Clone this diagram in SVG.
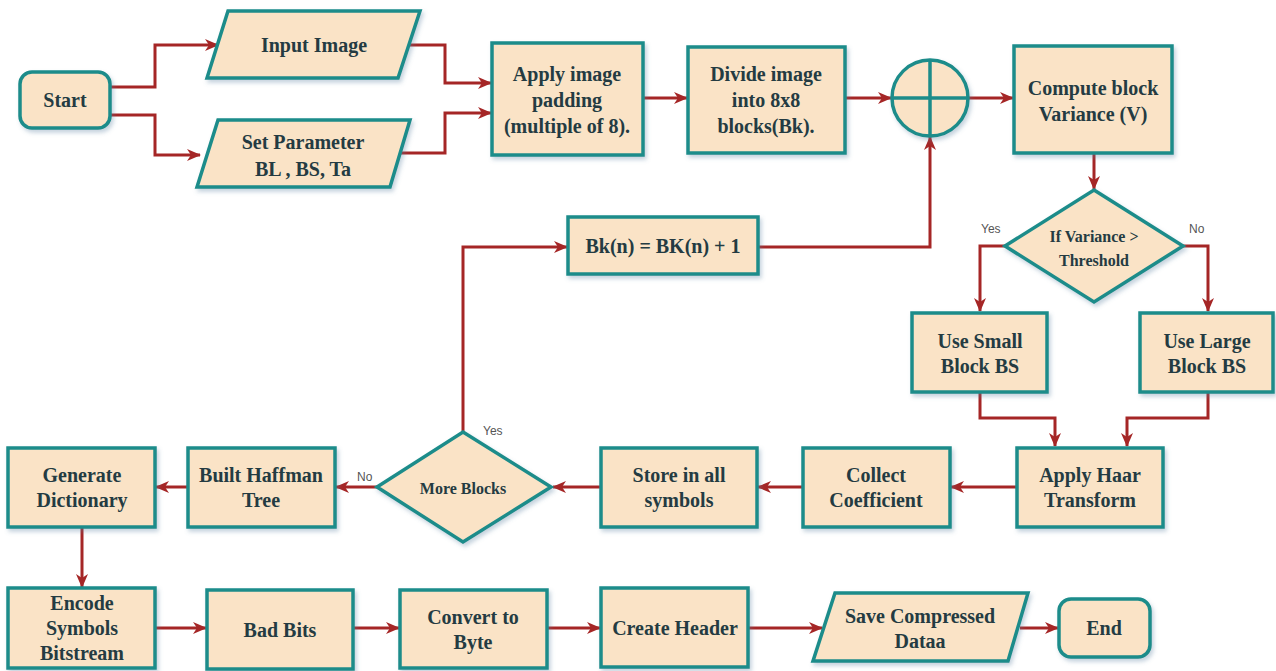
<svg xmlns="http://www.w3.org/2000/svg" width="1276" height="671" viewBox="0 0 1276 671">
<defs>
<marker id="ah" viewBox="0 0 14 12" refX="13" refY="6" markerWidth="14" markerHeight="12" markerUnits="userSpaceOnUse" orient="auto">
<path d="M0,0 L14,6 L0,12 L4,6 Z" fill="#A52626"/>
</marker>
<filter id="sh" x="-10%" y="-10%" width="125%" height="130%">
<feDropShadow dx="2" dy="3" stdDeviation="2" flood-color="#5a7fa0" flood-opacity="0.35"/>
</filter>
</defs>
<style>
.n{fill:#FAE3C6;stroke:#1C8C8A;stroke-width:3.5;filter:url(#sh)}
.t{font-family:"Liberation Serif","Times New Roman",serif;font-weight:bold;font-size:20px;fill:#243B42;text-anchor:middle;dominant-baseline:central}
.s{font-size:16px}
.c path{fill:none;stroke:#A52626;stroke-width:3;marker-end:url(#ah)}
.l{font-family:"Liberation Sans",Arial,sans-serif;font-size:12px;fill:#555}
</style>
<rect width="1276" height="671" fill="#fff"/>
<g class="c" id="connectors">
<path d="M110,87 H155 V45 H218"/>
<path d="M110,115 H155 V155 H200"/>
<path d="M409,45 H445 V83 H491"/>
<path d="M400,153 H445 V113 H491"/>
<path d="M643,98 H687"/>
<path d="M845,98 H891"/>
<path d="M968,98 H1013"/>
<path d="M1094,153 V189"/>
<path d="M1005,246 H980 V311"/>
<path d="M1183,246 H1208 V311"/>
<path d="M980,392 V418 H1055 V446"/>
<path d="M1208,392 V418 H1127 V446"/>
<path d="M1017,487 H951"/>
<path d="M803,487 H758"/>
<path d="M601,487 H553"/>
<path d="M377,487 H336"/>
<path d="M188,487 H156"/>
<path d="M82,526 V587"/>
<path d="M155,628 H206"/>
<path d="M353,628 H399"/>
<path d="M547,628 H600"/>
<path d="M748,628 H822"/>
<path d="M1020,628 H1058"/>
<path d="M463,432 V247 H567"/>
<path d="M758,247 H930 V137"/>
</g>
<text class="l" x="981" y="233">Yes</text>
<text class="l" x="1189" y="233">No</text>
<text class="l" x="483" y="435">Yes</text>
<text class="l" x="357" y="481">No</text>
<g id="start"><rect class="n" x="20" y="72" width="90" height="56" rx="12"/><text class="t" x="65" y="100">Start</text></g>
<g id="input"><polygon class="n" points="228,11 420,11 398,78 207,78"/><text class="t" x="314" y="45">Input Image</text></g>
<g id="param"><polygon class="n" points="218,120 410,120 390,187 197,187"/><text class="t" x="303" y="142">Set Parameter</text><text class="t" x="303" y="169">BL , BS, Ta</text></g>
<g id="pad"><rect class="n" x="492" y="43" width="151" height="112"/><text class="t" x="567" y="74">Apply image</text><text class="t" x="567" y="100">padding</text><text class="t" x="567" y="126">(multiple of 8).</text></g>
<g id="divide"><rect class="n" x="688" y="47" width="157" height="106"/><text class="t" x="766" y="74">Divide image</text><text class="t" x="766" y="100">into 8x8</text><text class="t" x="766" y="126">blocks(Bk).</text></g>
<g id="sum"><circle class="n" cx="930" cy="98" r="38"/><path d="M892,98 H968 M930,60 V136" stroke="#1C8C8A" stroke-width="3.5" fill="none"/></g>
<g id="variance"><rect class="n" x="1014" y="46" width="158" height="107"/><text class="t" x="1093" y="88">Compute block</text><text class="t" x="1093" y="114">Variance (V)</text></g>
<g id="decision"><polygon class="n" points="1094,190 1183,246 1094,302 1005,246"/><text class="t s" x="1094" y="236">If Variance &gt;</text><text class="t s" x="1094" y="260">Threshold</text></g>
<g id="small"><rect class="n" x="912" y="313" width="135" height="79"/><text class="t" x="980" y="341">Use Small</text><text class="t" x="980" y="366">Block BS</text></g>
<g id="large"><rect class="n" x="1140" y="313" width="133" height="79"/><text class="t" x="1207" y="341">Use Large</text><text class="t" x="1207" y="366">Block BS</text></g>
<g id="haar"><rect class="n" x="1017" y="448" width="146" height="79"/><text class="t" x="1090" y="475">Apply Haar</text><text class="t" x="1090" y="500">Transform</text></g>
<g id="collect"><rect class="n" x="803" y="448" width="147" height="79"/><text class="t" x="876" y="475">Collect</text><text class="t" x="876" y="500">Coefficient</text></g>
<g id="store"><rect class="n" x="601" y="448" width="156" height="79"/><text class="t" x="679" y="475">Store in all</text><text class="t" x="679" y="500">symbols</text></g>
<g id="more"><polygon class="n" points="463,432 551,487 463,542 377,487"/><text class="t s" x="463" y="488">More Blocks</text></g>
<g id="huff"><rect class="n" x="188" y="448" width="147" height="79"/><text class="t" x="261" y="475">Built Haffman</text><text class="t" x="261" y="500">Tree</text></g>
<g id="dict"><rect class="n" x="8" y="448" width="147" height="79"/><text class="t" x="82" y="475">Generate</text><text class="t" x="82" y="500">Dictionary</text></g>
<g id="bk"><rect class="n" x="568" y="217" width="190" height="57"/><text class="t" x="663" y="246">Bk(n) = BK(n) + 1</text></g>
<g id="encode"><rect class="n" x="8" y="588" width="147" height="80"/><text class="t" x="82" y="603">Encode</text><text class="t" x="82" y="628">Symbols</text><text class="t" x="82" y="653">Bitstream</text></g>
<g id="bad"><rect class="n" x="207" y="590" width="146" height="79"/><text class="t" x="280" y="630">Bad Bits</text></g>
<g id="byte"><rect class="n" x="400" y="590" width="147" height="78"/><text class="t" x="473" y="617">Convert to</text><text class="t" x="473" y="642">Byte</text></g>
<g id="header"><rect class="n" x="601" y="588" width="147" height="79"/><text class="t" x="675" y="628">Create Header</text></g>
<g id="save"><polygon class="n" points="835,593 1028,593 1008,661 813,661"/><text class="t" x="920" y="616">Save Compressed</text><text class="t" x="920" y="641">Dataa</text></g>
<g id="end"><rect class="n" x="1059" y="599" width="91" height="58" rx="12"/><text class="t" x="1104" y="628">End</text></g>
</svg>
